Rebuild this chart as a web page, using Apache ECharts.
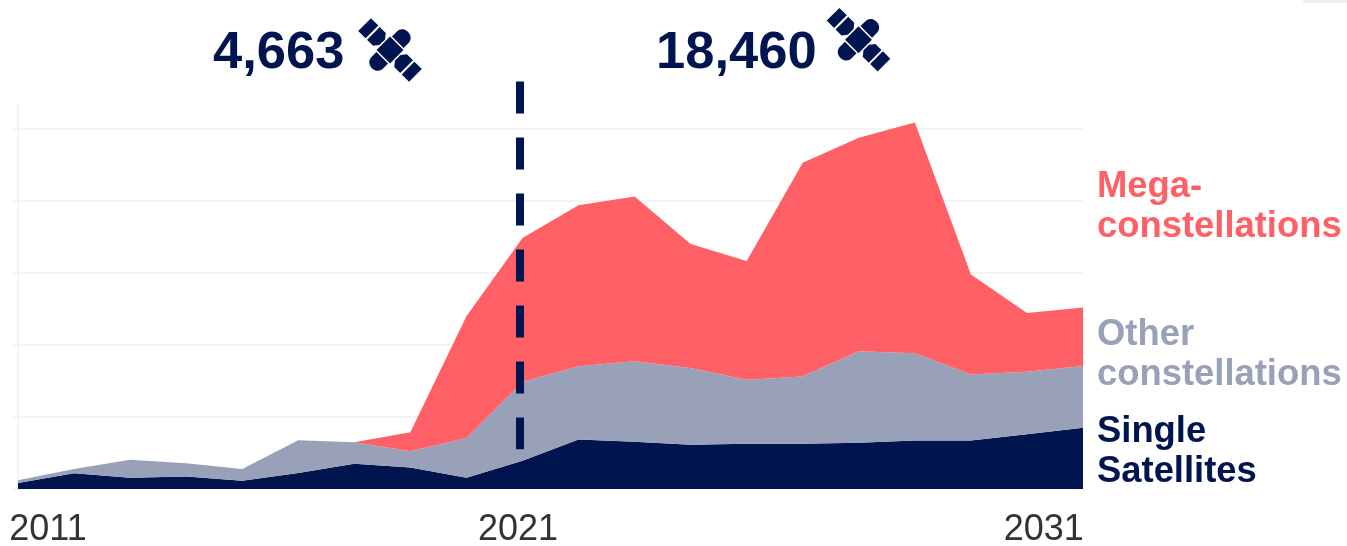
<!DOCTYPE html>
<html>
<head>
<meta charset="utf-8">
<script src="https://cdn.jsdelivr.net/npm/echarts@6/dist/echarts.min.js"></script>
<style>
    html, body { margin: 0; padding: 0; background: #fff; }
    #main { width: 1347px; height: 546px; }
</style>
</head>
<body>
<div id="main"></div>
<script>
// launches per step
var steps = ['0', '1', '2', '3', '4', '5', '6', '7', '8', '9', '10', '11', '12', '13', '14', '15', '16', '17', '18', '19'];
var single = [42, 109, 79, 86, 58, 111, 176, 149, 79, 197, 343, 329, 308, 315, 315, 322, 336, 336, 380, 426];
var other = [19, 30, 125, 92, 81, 227, 148, 113, 275, 546, 509, 558, 533, 444, 467, 634, 606, 460, 435, 428];
var mega = [0, 0, 0, 0, 0, 0, 0, 132, 845, 1000, 1118, 1144, 861, 824, 1484, 1484, 1604, 694, 407, 406];

var tickLabels = ['2011', '2021', '2031'];
var tickSteps = [0.535, 8.92, 18.3];
var yTicks = [0, 500, 1000, 1500, 2000, 2500];
var divider = [[8.956, 2831], [8.956, 276]];

var totals = ['4,663', '18,460'];
var seriesNames = ['Mega-\nconstellations', 'Other\nconstellations', 'Single\nSatellites'];

var NAVY = '#00144f';
var GREY = '#99a1b8';
var RED = '#ff6066';

function areaSeries(name, values, color) {
    return {
        name: name,
        type: 'line',
        stack: 'all',
        symbol: 'none',
        silent: true,
        lineStyle: { width: 0 },
        areaStyle: { color: color, opacity: 1 },
        data: values
    };
}

// satellite icon, drawn lying flat and rotated 45 degrees
var satellitePath = 'M-36 -9H-25.5V9H-36Z' +
    'M-23.5 -9H-15L-11 -4V4L-15 9H-23.5Z' +
    'M-9.5 -9.5H9.5V9.5H-9.5Z' +
    'M23.5 -9H15L11 -4V4L15 9H23.5Z' +
    'M36 -9H25.5V9H36Z' +
    'M-8.2 -11H8.2V-18C8.2 -28 -8.2 -28 -8.2 -18Z' +
    'M-8.2 11H8.2V18C8.2 28 -8.2 28 -8.2 18Z';
echarts.graphic.registerShape('satellite', echarts.graphic.extendPath(satellitePath, {}));

function satellite(x, y) {
    return {
        type: 'satellite',
        x: x,
        y: y,
        rotation: -Math.PI / 4,
        silent: true,
        style: { fill: NAVY }
    };
}

function bigText(text, x, y, size, lineHeight, color) {
    return {
        type: 'text',
        x: x,
        y: y,
        silent: true,
        style: {
            text: text,
            fill: color,
            font: 'bold ' + size + 'px "Liberation Sans", Arial, sans-serif',
            lineHeight: lineHeight,
            align: 'left',
            verticalAlign: 'top'
        }
    };
}

var myChart = echarts.init(document.getElementById('main'));

var option = {
    animation: false,
    backgroundColor: '#fff',
    grid: { left: 18, right: 264, top: 105, bottom: 57, outerBoundsMode: 'none' },
    xAxis: [{
        type: 'category',
        boundaryGap: false,
        data: steps,
        axisLine: { show: false },
        axisTick: { show: false },
        axisLabel: { show: false },
        splitLine: { show: false }
    }, {
        // second axis only carries the year labels and the divider
        type: 'value',
        position: 'bottom',
        min: 0,
        max: 19,
        axisLine: { show: false },
        axisTick: { show: false },
        splitLine: { show: false },
        axisLabel: {
            customValues: tickSteps,
            margin: 23,
            color: '#333',
            fontSize: 36,
            fontFamily: '"Liberation Sans", Arial, sans-serif',
            formatter: function(value) {
                return tickLabels[tickSteps.indexOf(value)];
            }
        }
    }],
    yAxis: {
        type: 'value',
        min: 0,
        max: 2667,
        interval: 500,
        axisLine: { show: true, lineStyle: { color: '#f4f4f4', width: 2 } },
        axisTick: { show: true, length: 4, customValues: yTicks, lineStyle: { color: '#f4f4f4', width: 2 } },
        axisLabel: { show: false },
        splitLine: { show: true, lineStyle: { color: '#f4f4f4', width: 2 } }
    },
    series: [
        areaSeries('Single Satellites', single, NAVY),
        areaSeries('Other constellations', other, GREY),
        areaSeries('Mega-constellations', mega, RED),
        {
            name: 'divider',
            type: 'line',
            xAxisIndex: 1,
            symbol: 'none',
            silent: true,
            clip: false,
            z: 5,
            lineStyle: { color: NAVY, width: 8, type: [32, 24], cap: 'butt' },
            data: divider
        }
    ],
    graphic: {
        elements: [
            bigText(totals[0], 213, 28, 52.5, 52, NAVY),
            satellite(390, 50),
            bigText(totals[1], 656, 28, 52.5, 52, NAVY),
            satellite(858.5, 39.7),
            bigText(seriesNames[0], 1097, 167, 36.4, 40, RED),
            bigText(seriesNames[1], 1097, 315, 36.4, 40, GREY),
            bigText(seriesNames[2], 1097, 412, 36.4, 40, NAVY),
            {
                type: 'rect',
                silent: true,
                shape: { x: 1303, y: 0, width: 44, height: 3 },
                style: { fill: '#f0f0f0' }
            }
        ]
    }
};

myChart.setOption(option);
</script>
</body>
</html>
